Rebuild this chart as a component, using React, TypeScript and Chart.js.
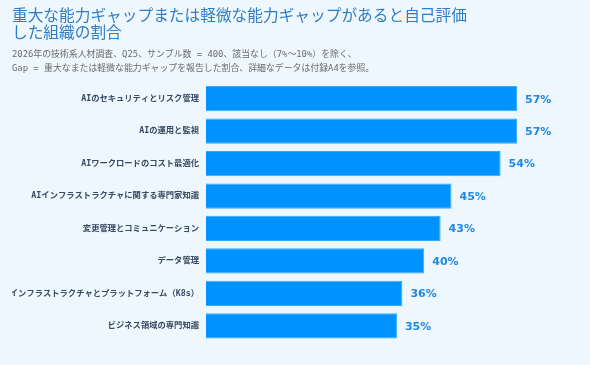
import React, { useEffect, useRef } from "react";
import { Chart, registerables } from "chart.js";

Chart.register(...registerables);

const categories = [
  "AIのセキュリティとリスク管理",
  "AIの運用と監視",
  "AIワークロードのコスト最適化",
  "AIインフラストラクチャに関する専門家知識",
  "変更管理とコミュニケーション",
  "データ管理",
  "インフラストラクチャとプラットフォーム（K8s）",
  "ビジネス領域の専門知識",
];
const gapPercent = [57, 57, 54, 45, 43, 40, 36, 35];
const titleLines = ["重大な能力ギャップまたは軽微な能力ギャップがあると自己評価", "した組織の割合"];
const subtitleLines = [
  "2026年の技術系人材調査、Q25、サンプル数 = 400、該当なし（7%～10%）を除く、",
  "Gap = 重大なまたは軽微な能力ギャップを報告した割合、詳細なデータは付録A4を参照。",
];

const BG = "#EDF7FD";
const MONO = "'DejaVu Sans Mono', 'Noto Sans CJK JP', monospace";

const valueLabels = {
  id: "valueLabels",
  afterDatasetsDraw(chart: any) {
    const ctx = chart.ctx;
    const meta = chart.getDatasetMeta(0);
    ctx.save();
    ctx.font = "bold 11px 'DejaVu Sans', 'Noto Sans CJK JP', sans-serif";
    ctx.fillStyle = "#1E88E5";
    ctx.textAlign = "left";
    ctx.textBaseline = "middle";
    meta.data.forEach((bar: any, i: number) => {
      ctx.fillText(gapPercent[i] + "%", bar.x + 8, bar.y + 1);
    });
    ctx.restore();
  },
};

const bgPlugin = {
  id: "bgFill",
  beforeDraw(chart: any) {
    const ctx = chart.ctx;
    ctx.save();
    ctx.fillStyle = BG;
    ctx.fillRect(0, 0, chart.width, chart.height);
    ctx.restore();
  },
};

export default function App() {
  const ref = useRef<HTMLCanvasElement | null>(null);
  useEffect(() => {
    document.body.style.margin = "0";
    document.body.style.background = BG;
    if (!ref.current) return;
    const chart = new Chart(ref.current, {
      type: "bar",
      data: {
        labels: categories,
        datasets: [
          {
            data: gapPercent,
            backgroundColor: "#0092FF",
            borderColor: "#3AA8FF",
            borderWidth: 1,
            barPercentage: 0.78,
            categoryPercentage: 1,
          },
        ],
      },
      options: {
        indexAxis: "y",
        animation: false,
        responsive: false,
        maintainAspectRatio: false,
        layout: { padding: { left: 12, right: 13, top: 7, bottom: 23 } },
        plugins: {
          legend: { display: false },
          tooltip: { enabled: false },
          title: {
            display: true,
            text: titleLines,
            align: "start",
            color: "#2F7DC4",
            font: { size: 15.7, family: "'Noto Sans CJK JP', sans-serif", weight: "normal", lineHeight: 1.08 },
            padding: { top: 0, bottom: 7 },
          },
          subtitle: {
            display: true,
            text: subtitleLines,
            align: "start",
            color: "#6B6B6B",
            font: { size: 8.9, family: MONO, weight: "normal", lineHeight: 1.55 },
            padding: { top: 0, bottom: 7 },
          },
        },
        scales: {
          x: {
            display: false,
            min: 0,
            max: 68,
          },
          y: {
            grid: { display: false, drawTicks: false },
            border: { display: false },
            afterFit: (scale: any) => {
              scale.width = 194;
            },
            ticks: {
              color: "#3A4A63",
              padding: 7,
              font: { size: 8.3, weight: "bold", family: MONO },
            },
          },
        },
      },
      plugins: [bgPlugin, valueLabels],
    });
    return () => chart.destroy();
  }, []);
  return (
    <div style={{ width: 590, height: 365, background: BG }}>
      <canvas ref={ref} width={590} height={365} style={{ display: "block" }} />
    </div>
  );
}
